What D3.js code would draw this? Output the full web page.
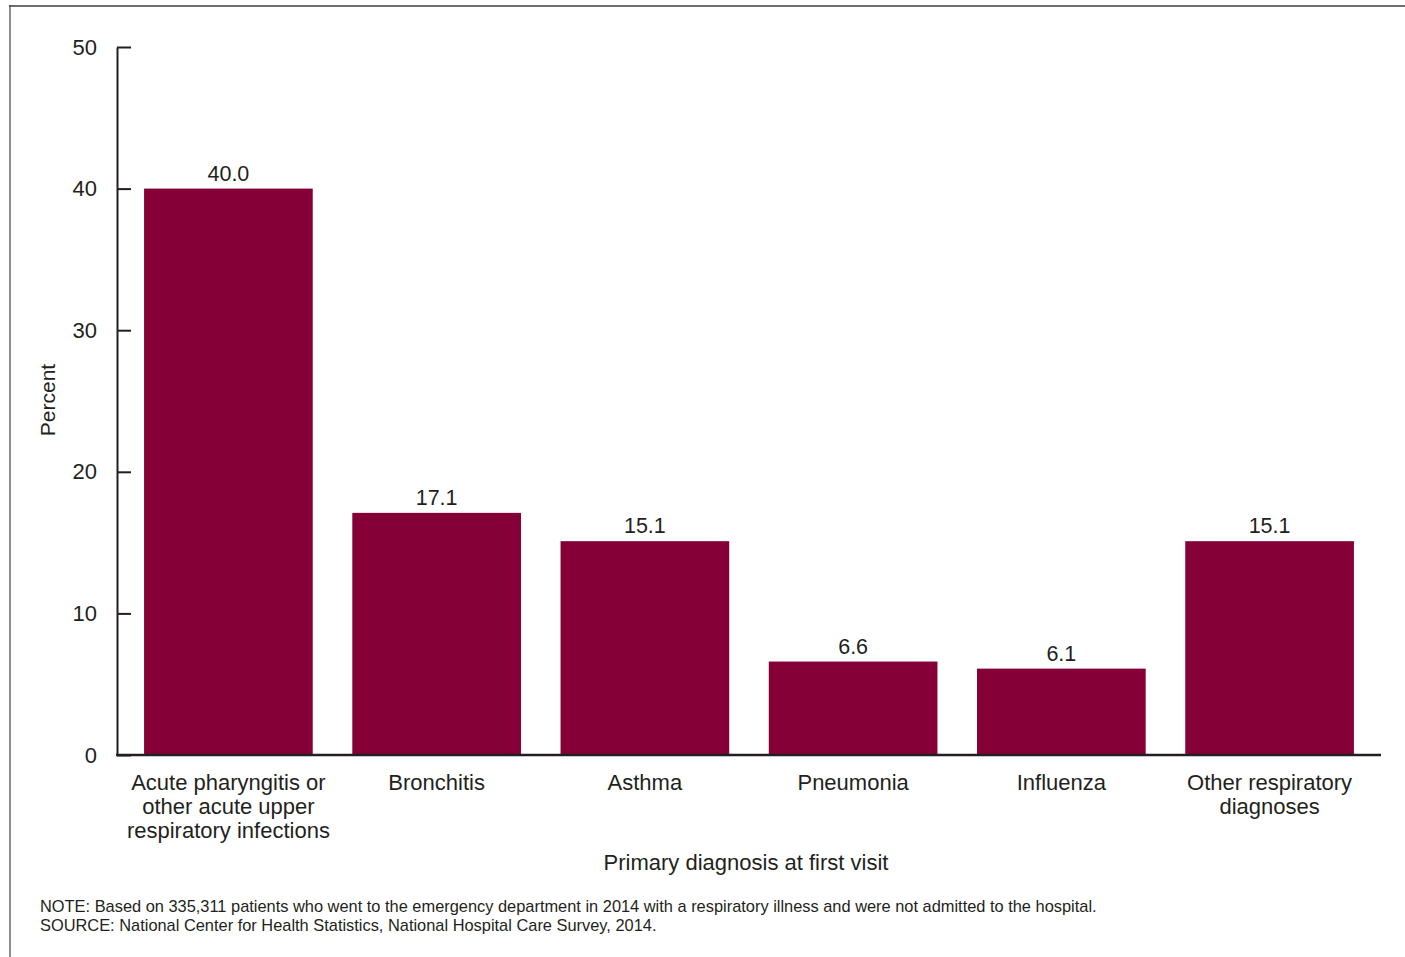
<!DOCTYPE html>
<html>
<head>
<meta charset="utf-8">
<script src="https://cdn.jsdelivr.net/npm/d3@7"></script>
<style>
  body { margin: 0; background: #fff; }
  svg { display: block; font-family: "Liberation Sans", Arial, sans-serif; }
</style>
</head>
<body>
<div id="chart"></div>
<script>
const categories = [
  ['Acute pharyngitis or', 'other acute upper', 'respiratory infections'],
  ['Bronchitis'],
  ['Asthma'],
  ['Pneumonia'],
  ['Influenza'],
  ['Other respiratory', 'diagnoses']
];
const values = [40.0, 17.1, 15.1, 6.6, 6.1, 15.1];
const yTicks = [0, 10, 20, 30, 40, 50];
const noteLines = [
  'NOTE: Based on 335,311 patients who went to the emergency department in 2014 with a respiratory illness and were not admitted to the hospital.',
  'SOURCE: National Center for Health Statistics, National Hospital Care Survey, 2014.'
];

const width = 1405, height = 957;
const ink = '#231f20';
const barColor = '#860038';

const svg = d3.select('#chart').append('svg')
  .attr('width', width)
  .attr('height', height);

// frame
svg.append('line').attr('x1', 9).attr('x2', width).attr('y1', 6).attr('y2', 6)
  .attr('stroke', '#6e6e6e').attr('stroke-width', 2);
svg.append('line').attr('x1', 10).attr('x2', 10).attr('y1', 5).attr('y2', height)
  .attr('stroke', '#444').attr('stroke-width', 1.2);

const x = d3.scaleBand()
  .domain(d3.range(values.length))
  .range([117, 1381])
  .paddingInner(0.19)
  .paddingOuter(0.13);

const y = d3.scaleLinear().domain([0, 50]).range([755, 47]);

// bars
svg.append('g')
  .selectAll('rect')
  .data(values)
  .join('rect')
  .attr('x', (d, i) => x(i))
  .attr('y', d => y(d))
  .attr('width', x.bandwidth())
  .attr('height', d => y(0) - y(d))
  .attr('fill', barColor);

// value labels
svg.append('g')
  .selectAll('text')
  .data(values)
  .join('text')
  .attr('x', (d, i) => x(i) + x.bandwidth() / 2)
  .attr('y', d => y(d) - 8)
  .attr('text-anchor', 'middle')
  .attr('font-size', 21.5)
  .attr('fill', ink)
  .text(d => d.toFixed(1));

// y axis
const yAxis = svg.append('g')
  .attr('transform', 'translate(117,0)')
  .call(d3.axisLeft(y).tickValues(yTicks).tickSize(-14).tickPadding(20).tickSizeOuter(0));
yAxis.select('.domain').attr('stroke', ink).attr('stroke-width', 2);
yAxis.selectAll('.tick line').attr('stroke', ink).attr('stroke-width', 2);
yAxis.selectAll('.tick text')
  .attr('font-size', 22)
  .attr('fill', ink)
  .attr('font-family', '"Liberation Sans", Arial, sans-serif');

// x axis line
svg.append('line')
  .attr('x1', 116).attr('x2', 1381)
  .attr('y1', y(0)).attr('y2', y(0))
  .attr('stroke', ink).attr('stroke-width', 2.5);

// category labels
const catG = svg.append('g')
  .selectAll('text')
  .data(categories)
  .join('text')
  .attr('x', (d, i) => x(i) + x.bandwidth() / 2)
  .attr('y', 790)
  .attr('text-anchor', 'middle')
  .attr('font-size', 22)
  .attr('fill', ink);
catG.selectAll('tspan')
  .data(d => d)
  .join('tspan')
  .attr('x', function () { return d3.select(this.parentNode).attr('x'); })
  .attr('dy', (d, i) => i === 0 ? 0 : 24)
  .text(d => d);

// axis titles
svg.append('text')
  .attr('x', 746).attr('y', 870)
  .attr('text-anchor', 'middle')
  .attr('font-size', 22)
  .attr('fill', ink)
  .text('Primary diagnosis at first visit');

svg.append('text')
  .attr('transform', 'translate(55,400) rotate(-90)')
  .attr('text-anchor', 'middle')
  .attr('font-size', 21)
  .attr('fill', ink)
  .text('Percent');

// notes
svg.append('g')
  .selectAll('text')
  .data(noteLines)
  .join('text')
  .attr('x', 40)
  .attr('y', (d, i) => 912 + i * 19)
  .attr('font-size', 16.4)
  .attr('fill', ink)
  .text(d => d);
</script>
</body>
</html>
